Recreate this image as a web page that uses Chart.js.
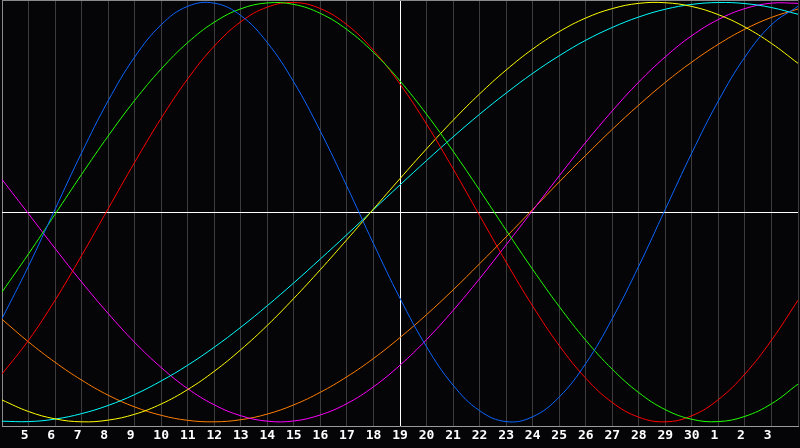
<!DOCTYPE html>
<html>
<head>
<meta charset="utf-8">
<script src="https://cdn.jsdelivr.net/npm/chart.js@4.4.0/dist/chart.umd.min.js"></script>
<style>
html,body{margin:0;padding:0;background:#050407;overflow:hidden;}
#wrap{width:800px;height:448px;}
</style>
</head>
<body>
<div id="wrap"><canvas id="c" width="800" height="448"></canvas></div>
<script>
// Day labels (index 0..30); first and last sit on the plot edges and are not shown
const dayLabels = ['4','5','6','7','8','9','10','11','12','13','14','15','16','17','18','19','20','21','22','23','24','25','26','27','28','29','30','1','2','3','4'];
const todayIndex = 15;

const blueSeries = [-0.508,-0.257,0.014,0.283,0.531,0.740,0.894,0.982,0.997,0.938,0.809,0.620,0.386,0.123,-0.150,-0.411,-0.642,-0.825,-0.947,-0.999,-0.976,-0.882,-0.722,-0.508,-0.257,0.014,0.283,0.531,0.740,0.894,0.982];
const greenSeries = [-0.381,-0.199,-0.010,0.180,0.363,0.533,0.683,0.809,0.906,0.970,0.998,0.991,0.948,0.871,0.762,0.626,0.467,0.291,0.105,-0.086,-0.273,-0.450,-0.611,-0.749,-0.861,-0.942,-0.988,-0.999,-0.974,-0.914,-0.820];
const redSeries = [-0.772,-0.611,-0.420,-0.207,0.016,0.238,0.448,0.636,0.792,0.908,0.978,1.000,0.971,0.894,0.772,0.611,0.420,0.207,-0.016,-0.238,-0.448,-0.636,-0.792,-0.908,-0.978,-1.000,-0.971,-0.894,-0.772,-0.611,-0.420];
const yellowSeries = [-0.896,-0.951,-0.986,-1.000,-0.992,-0.964,-0.915,-0.846,-0.759,-0.656,-0.540,-0.411,-0.274,-0.131,0.015,0.160,0.302,0.438,0.564,0.678,0.778,0.861,0.926,0.971,0.996,0.999,0.981,0.942,0.883,0.805,0.710];
const cyanSeries = [-0.997,-0.999,-0.987,-0.961,-0.922,-0.870,-0.805,-0.730,-0.644,-0.549,-0.446,-0.337,-0.223,-0.107,0.012,0.130,0.246,0.359,0.467,0.568,0.662,0.746,0.820,0.881,0.931,0.968,0.991,1.000,0.995,0.976,0.944];
const magentaSeries = [0.156,-0.008,-0.173,-0.333,-0.483,-0.621,-0.741,-0.842,-0.919,-0.971,-0.997,-0.996,-0.967,-0.913,-0.833,-0.730,-0.608,-0.469,-0.317,-0.156,0.008,0.173,0.333,0.483,0.621,0.741,0.842,0.919,0.971,0.997,0.996];
const orangeSeries = [-0.511,-0.619,-0.716,-0.801,-0.873,-0.929,-0.969,-0.993,-1.000,-0.990,-0.963,-0.919,-0.859,-0.785,-0.698,-0.598,-0.489,-0.371,-0.246,-0.118,0.013,0.144,0.271,0.395,0.511,0.619,0.716,0.801,0.873,0.929,0.969];

const seriesDefs = [
  {name:'blue', data: blueSeries, color:'#0b66ff'},
  {name:'green', data: greenSeries, color:'#22ff00'},
  {name:'red', data: redSeries, color:'#ff0000'},
  {name:'yellow', data: yellowSeries, color:'#ffff00'},
  {name:'cyan', data: cyanSeries, color:'#00ffff'},
  {name:'magenta', data: magentaSeries, color:'#ff00ff'},
  {name:'orange', data: orangeSeries, color:'#ff7f00'}
];

const yMin = -1.02, yMax = 1.012;

const bgPlugin = {
  id: 'bg',
  beforeDraw(chart) {
    const ctx = chart.ctx;
    ctx.save();
    ctx.fillStyle = '#050407';
    ctx.fillRect(0, 0, chart.width, chart.height);
    ctx.restore();
  }
};

new Chart(document.getElementById('c'), {
  type: 'line',
  data: {
    labels: dayLabels,
    datasets: seriesDefs.map(s => ({
      label: s.name,
      data: s.data,
      borderColor: s.color,
      borderWidth: 1,
      pointRadius: 0,
      fill: false,
      tension: 0.4
    }))
  },
  options: {
    responsive: false,
    animation: false,
    devicePixelRatio: 1,
    layout: { padding: { left: 0, right: 0, top: 0, bottom: 2 } },
    plugins: { legend: { display: false }, tooltip: { enabled: false } },
    scales: {
      x: {
        type: 'category',
        offset: false,
        border: { display: true, color: '#9a9a9a', width: 1 },
        grid: {
          drawTicks: false,
          color: (ctx) => ctx.index === todayIndex ? '#ffffff' : (ctx.index === 0 ? '#8a8a8a' : '#3c3c3c'),
          lineWidth: 1
        },
        ticks: {
          autoSkip: false,
          maxRotation: 0,
          minRotation: 0,
          padding: 2,
          color: '#ffffff',
          font: { family: '"DejaVu Sans Mono", monospace', size: 13, weight: 'bold', lineHeight: '16px' },
          callback: (val, idx) => {
            if (idx === 0 || idx === dayLabels.length - 1) return '';
            const t = dayLabels[idx];
            return t.length === 1 ? t + ' ' : t;
          }
        }
      },
      y: {
        min: yMin,
        max: yMax,
        border: { display: false },
        afterBuildTicks: (scale) => { scale.ticks = [{value: yMin}, {value: 0}, {value: yMax}]; },
        grid: {
          drawTicks: false,
          color: (ctx) => ctx.tick.value === 0 ? '#ffffff' : (ctx.tick.value === yMax ? '#8a8a8a' : 'rgba(0,0,0,0)'),
          lineWidth: 1
        },
        ticks: { display: false }
      }
    }
  },
  plugins: [bgPlugin]
});
</script>
</body>
</html>
